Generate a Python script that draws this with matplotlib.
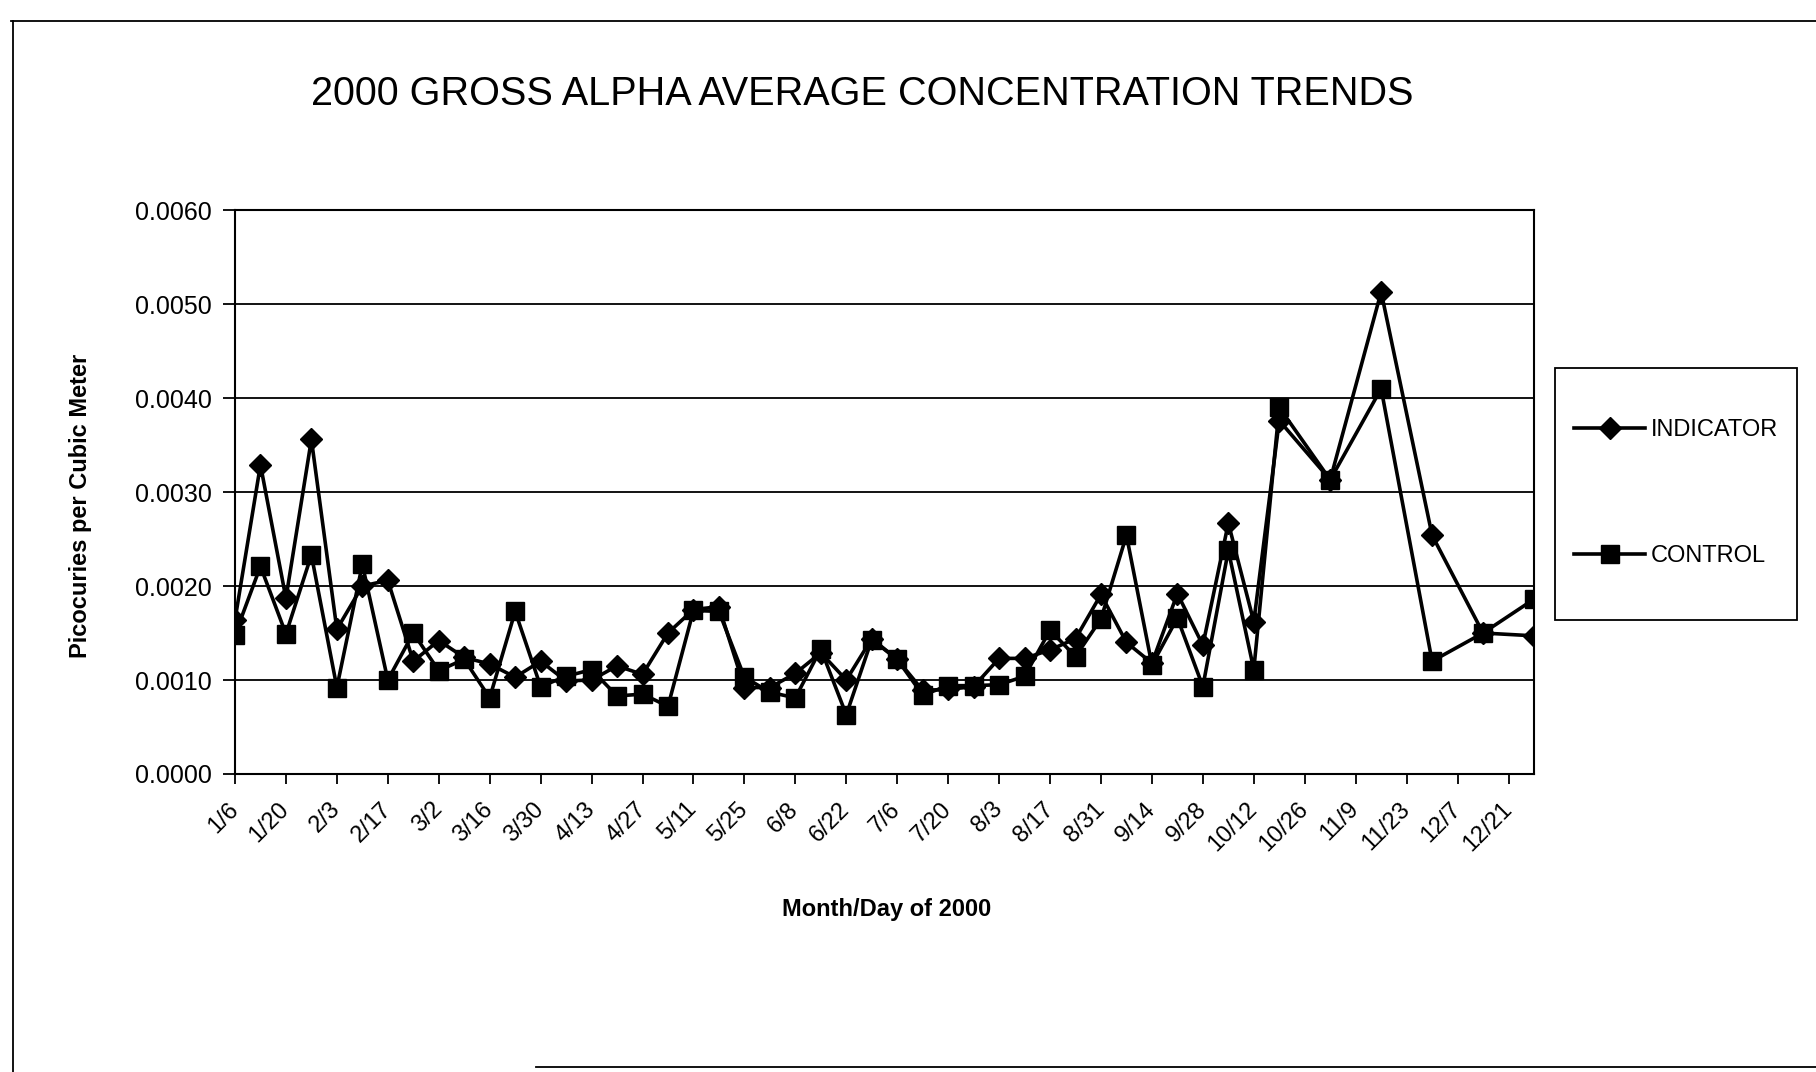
import matplotlib
matplotlib.use("Agg")
import matplotlib.pyplot as plt
from matplotlib.lines import Line2D
from matplotlib.patches import Rectangle
import numpy as np

# Sampling dates (year 2000); weekly through mid-October, then every two weeks
sample_dates = [
    "2000-01-06", "2000-01-13", "2000-01-20", "2000-01-27", "2000-02-03",
    "2000-02-10", "2000-02-17", "2000-02-24", "2000-03-02", "2000-03-09",
    "2000-03-16", "2000-03-23", "2000-03-30", "2000-04-06", "2000-04-13",
    "2000-04-20", "2000-04-27", "2000-05-04", "2000-05-11", "2000-05-18",
    "2000-05-25", "2000-06-01", "2000-06-08", "2000-06-15", "2000-06-22",
    "2000-06-29", "2000-07-06", "2000-07-13", "2000-07-20", "2000-07-27",
    "2000-08-03", "2000-08-10", "2000-08-17", "2000-08-24", "2000-08-31",
    "2000-09-07", "2000-09-14", "2000-09-21", "2000-09-28", "2000-10-05",
    "2000-10-12", "2000-10-19", "2000-11-02", "2000-11-16", "2000-11-30",
    "2000-12-14", "2000-12-28",
]

# Gross alpha average concentrations, pCi per cubic meter
indicator = [
    0.00164, 0.00329, 0.00187, 0.00356, 0.00154,
    0.00200, 0.00206, 0.00120, 0.00142, 0.00124,
    0.00117, 0.00103, 0.00120, 0.00099, 0.00100,
    0.00115, 0.00106, 0.00150, 0.00175, 0.00178,
    0.00092, 0.00092, 0.00107, 0.00129, 0.00100,
    0.00144, 0.00122, 0.00089, 0.00090, 0.00093,
    0.00123, 0.00123, 0.00132, 0.00144, 0.00191,
    0.00140, 0.00118, 0.00192, 0.00137, 0.00267,
    0.00162, 0.00376, 0.00313, 0.00513, 0.00254,
    0.00150, 0.00147,
]
control = [
    0.00148, 0.00221, 0.00149, 0.00233, 0.00092,
    0.00223, 0.00100, 0.00150, 0.00110, 0.00122,
    0.00081, 0.00173, 0.00093, 0.00104, 0.00111,
    0.00083, 0.00085, 0.00072, 0.00174, 0.00173,
    0.00103, 0.00087, 0.00081, 0.00133, 0.00063,
    0.00143, 0.00122, 0.00084, 0.00094, 0.00094,
    0.00095, 0.00104, 0.00153, 0.00125, 0.00165,
    0.00254, 0.00116, 0.00166, 0.00093, 0.00238,
    0.00111, 0.00390, 0.00313, 0.00410, 0.00120,
    0.00150, 0.00186,
]

tick_labels = [
    "1/6", "1/20", "2/3", "2/17", "3/2", "3/16", "3/30", "4/13", "4/27",
    "5/11", "5/25", "6/8", "6/22", "7/6", "7/20", "8/3", "8/17", "8/31",
    "9/14", "9/28", "10/12", "10/26", "11/9", "11/23", "12/7", "12/21",
]
y_ticks = [0.0, 0.001, 0.002, 0.003, 0.004, 0.005, 0.006]

x = np.array(sample_dates, dtype="datetime64[D]")
tick_pos = np.array(
    ["2000-%02d-%02d" % tuple(int(p) for p in lbl.split("/")) for lbl in tick_labels],
    dtype="datetime64[D]",
)

FONT = ["Liberation Sans", "DejaVu Sans"]
plt.rcParams["font.family"] = FONT

fig = plt.figure(figsize=(18.16, 10.72), dpi=100)
ax = fig.add_axes([0.1294, 0.278, 0.7153, 0.526])

ax.plot(x, indicator, color="black", lw=2.6, marker="D", ms=11,
        mfc="black", mec="black", label="INDICATOR", zorder=3)
ax.plot(x, control, color="black", lw=2.6, marker="s", ms=12.5,
        mfc="black", mec="black", label="CONTROL", zorder=3)

ax.set_xlim(np.datetime64("2000-01-06"), np.datetime64("2000-12-28"))
ax.set_ylim(0, 0.006)
ax.set_yticks(y_ticks)
ax.set_yticklabels(["%.4f" % v for v in y_ticks], fontsize=18)
ax.set_xticks(tick_pos)
ax.set_xticklabels(tick_labels, fontsize=17, rotation=45, ha="right",
                   va="center", rotation_mode="anchor")
ax.tick_params(axis="y", direction="out", length=9, width=1.3, pad=8)
ax.tick_params(axis="x", direction="out", length=7, width=1.3, pad=16)

ax.grid(axis="y", color="black", lw=1.3)
ax.set_axisbelow(True)
for s in ax.spines.values():
    s.set_color("black")
    s.set_linewidth(1.5)

ax.set_ylabel("Picocuries per Cubic Meter", fontsize=17, fontweight="bold")
ax.yaxis.set_label_coords(-0.110, 0.475)
ax.set_xlabel("Month/Day of 2000", fontsize=17, fontweight="bold")
ax.xaxis.set_label_coords(0.502, -0.220)

fig.text(0.475, 0.912, "2000 GROSS ALPHA AVERAGE CONCENTRATION TRENDS",
         ha="center", va="center", fontsize=28.5)

# Legend box to the right of the plot
fig.patches.append(Rectangle((0.8563, 0.4216), 0.1333, 0.235,
                             transform=fig.transFigure, fill=False,
                             edgecolor="black", lw=1.3))
fig.legend(loc="center", bbox_to_anchor=(0.923, 0.540), frameon=False,
           handlelength=3.0, handletextpad=0.25, labelspacing=4.4,
           numpoints=1, prop={"size": 17})

# Outer chart-area border
fig.add_artist(Line2D([0.006, 1.0], [0.98, 0.98], transform=fig.transFigure,
                      color="black", lw=1.3))
fig.add_artist(Line2D([0.007, 0.007], [0.0, 0.98], transform=fig.transFigure,
                      color="black", lw=1.3))
fig.add_artist(Line2D([0.295, 1.0], [0.005, 0.005], transform=fig.transFigure,
                      color="black", lw=1.3))

fig.savefig("out.png", dpi=100, facecolor="white")
